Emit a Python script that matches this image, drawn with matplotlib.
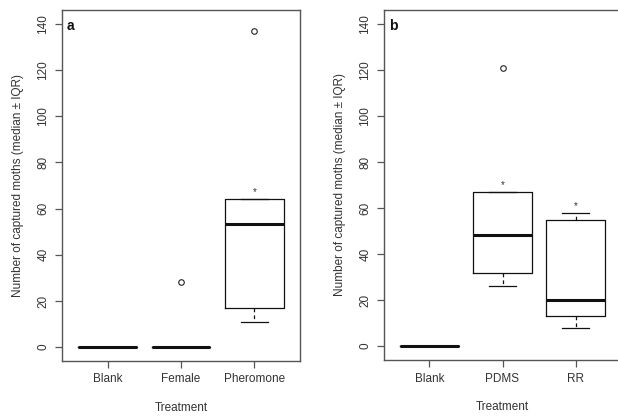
import numpy as np
import matplotlib.pyplot as plt

plt.rcParams['font.family'] = ['Liberation Sans', 'DejaVu Sans']

# panel a
labels_a = ["Blank", "Female", "Pheromone"]
q1_a = [0, 0, 17]
med_a = [0, 0, 53.5]
q3_a = [0, 0, 64]
wlo_a = [0, 0, 11]
whi_a = [0, 0, 64]
fliers_a = [[], [28], [137]]
stars_a = [None, None, 67]

# panel b
labels_b = ["Blank", "PDMS", "RR"]
q1_b = [0, 32, 13]
med_b = [0, 48.5, 20]
q3_b = [0, 67, 55]
wlo_b = [0, 26, 8]
whi_b = [0, 67, 58]
fliers_b = [[], [121], []]
stars_b = [None, 70, 61]

ink = "#111111"
axcol = "#555555"


def make_stats(labels, q1, med, q3, wlo, whi, fliers):
    stats = []
    for i in range(len(labels)):
        stats.append(dict(label=labels[i], q1=q1[i], med=med[i], q3=q3[i],
                          whislo=wlo[i], whishi=whi[i], fliers=fliers[i]))
    return stats


def panel(ax, stats, stars, letter):
    ax.bxp(stats, positions=[1, 2, 3], widths=0.8, showfliers=True,
           boxprops=dict(color=ink, linewidth=0.9),
           medianprops=dict(color=ink, linewidth=2.2),
           whiskerprops=dict(color=ink, linewidth=0.9, linestyle=(0, (3, 2.5))),
           capprops=dict(color=ink, linewidth=0.9),
           capwidths=0.36,
           flierprops=dict(marker="o", markersize=4, markerfacecolor="none",
                           markeredgecolor="#222222", markeredgewidth=0.8))
    for i, s in enumerate(stars):
        if s is not None:
            ax.text(i + 1, s, "*", ha="center", va="center", fontsize=7, color="#333333")
    ax.set_xlim(0.38, 3.62)
    ax.set_ylim(-6, 146)
    ax.set_yticks(np.arange(0, 141, 20))
    ax.set_yticklabels([str(v) for v in range(0, 141, 20)], rotation=90, va="center")
    ax.tick_params(axis="both", colors=axcol, labelcolor="#333333", labelsize=8.5,
                   length=5, width=0.9, pad=4)
    for sp in ax.spines.values():
        sp.set_color(axcol)
        sp.set_linewidth(1.0)
    ax.set_xlabel("Treatment", fontsize=8.5, color="#333333", labelpad=12)
    ax.set_ylabel("Number of captured moths (median \u00b1 IQR)", fontsize=8.5,
                  color="#333333", labelpad=10)
    ax.text(0.02, 0.975, letter, transform=ax.transAxes, ha="left", va="top",
            fontsize=10, fontweight="bold", color="#111111")


fig = plt.figure(figsize=(6.18, 4.17), dpi=100)
ax1 = fig.add_axes([62 / 618, 56 / 417, 238 / 618, 351 / 417])
ax2 = fig.add_axes([384 / 618, 57 / 417, 237 / 618, 350 / 417])

panel(ax1, make_stats(labels_a, q1_a, med_a, q3_a, wlo_a, whi_a, fliers_a), stars_a, "a")
panel(ax2, make_stats(labels_b, q1_b, med_b, q3_b, wlo_b, whi_b, fliers_b), stars_b, "b")

fig.savefig("out.png", dpi=100)
